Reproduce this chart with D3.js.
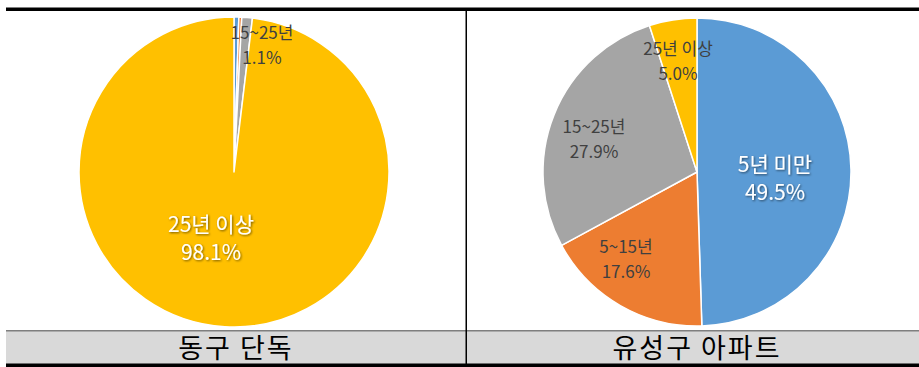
<!DOCTYPE html>
<html><head><meta charset="utf-8">
<script src="https://cdn.jsdelivr.net/npm/d3@7"></script>
<style>
html,body{margin:0;padding:0;background:#fff;}
svg{display:block;font-family:"Noto Sans CJK KR","Noto Sans",sans-serif;}
</style></head>
<body><svg id="c" width="919" height="367"></svg>
<script>
// ---- data ----
const categories = ["5년 미만", "5~15년", "15~25년", "25년 이상"];
const donggu = [0.5, 0.3, 1.1, 98.1];
const yuseong = [49.5, 17.6, 27.9, 5.0];
const panelTitles = ["동구 단독", "유성구 아파트"];
// which labels are shown per panel
const dongguShown = [false, false, true, true];
const yuseongShown = [true, true, true, true];

// ---- layout / style ----
const colors = ["#5B9BD5", "#ED7D31", "#A5A5A5", "#FFC000"];
const svg = d3.select("#c");
const W = 919;

// panels: centers, radius, label offsets (relative to center)
const panels = [
  {cx: 234, cy: 172, r: 155, values: donggu, shown: dongguShown,
   labelOff: [null, null, [28, -126], [-23, 67]],
   big: [false, false, false, true]},
  {cx: 697, cy: 172, r: 154, values: yuseong, shown: yuseongShown,
   labelOff: [[78, 7], [-71, 88], [-103, -32], [-19, -110]],
   big: [true, false, false, false]}
];

const defs = svg.append("defs");
const f = defs.append("filter").attr("id", "sh").attr("x", "-20%").attr("y", "-20%").attr("width", "140%").attr("height", "140%");
f.append("feDropShadow").attr("dx", 1).attr("dy", 1).attr("stdDeviation", 0.8).attr("flood-color", "#000").attr("flood-opacity", 0.55);

const pie = d3.pie().sort(null).value(d => d);

panels.forEach((p, pi) => {
  const g = svg.append("g").attr("transform", `translate(${p.cx},${p.cy})`);
  const arc = d3.arc().innerRadius(0).outerRadius(p.r);
  const arcs = pie(p.values);
  g.selectAll("path").data(arcs).join("path")
    .attr("d", arc)
    .attr("fill", (d, i) => colors[i])
    .attr("stroke", "#fff").attr("stroke-width", 1.5).attr("stroke-linejoin", "round");

  arcs.forEach((a, i) => {
    if (!p.shown[i]) return;
    const off = p.labelOff[i];
    const big = p.big[i];
    const fs = big ? 21 : 17;
    const t = g.append("text")
      .attr("text-anchor", "middle")
      .attr("font-size", fs)
      .attr("fill", big ? "#fff" : "#404040")
      .attr("filter", big ? "url(#sh)" : null);
    const lh = big ? 28 : 25;
    t.append("tspan").attr("x", off[0]).attr("y", off[1] - lh / 2 + fs * 0.35).text(categories[i]);
    t.append("tspan").attr("x", off[0]).attr("y", off[1] + lh / 2 + fs * 0.35).text(d3.format(".1f")(p.values[i]) + "%");
  });
});

// frame lines
svg.append("rect").attr("x", 6).attr("y", 7.5).attr("width", W - 6).attr("height", 3.5).attr("fill", "#000");
svg.append("rect").attr("x", 6).attr("y", 331).attr("width", W - 6).attr("height", 33).attr("fill", "#d9d9d9");
svg.append("rect").attr("x", 6).attr("y", 330).attr("width", W - 6).attr("height", 1.5).attr("fill", "#7f7f7f");
svg.append("rect").attr("x", 6).attr("y", 363.5).attr("width", W - 6).attr("height", 3.5).attr("fill", "#000");
svg.append("rect").attr("x", 465.5).attr("y", 11).attr("width", 1.5).attr("height", 353).attr("fill", "#000");

const titleX = [236, 697];
panelTitles.forEach((t, i) => {
  svg.append("text").attr("x", titleX[i]).attr("y", 358)
    .attr("text-anchor", "middle").attr("font-size", 27).attr("font-weight", 400)
    .attr("letter-spacing", 2)
    .attr("fill", "#000").text(t);
});
</script></body></html>
